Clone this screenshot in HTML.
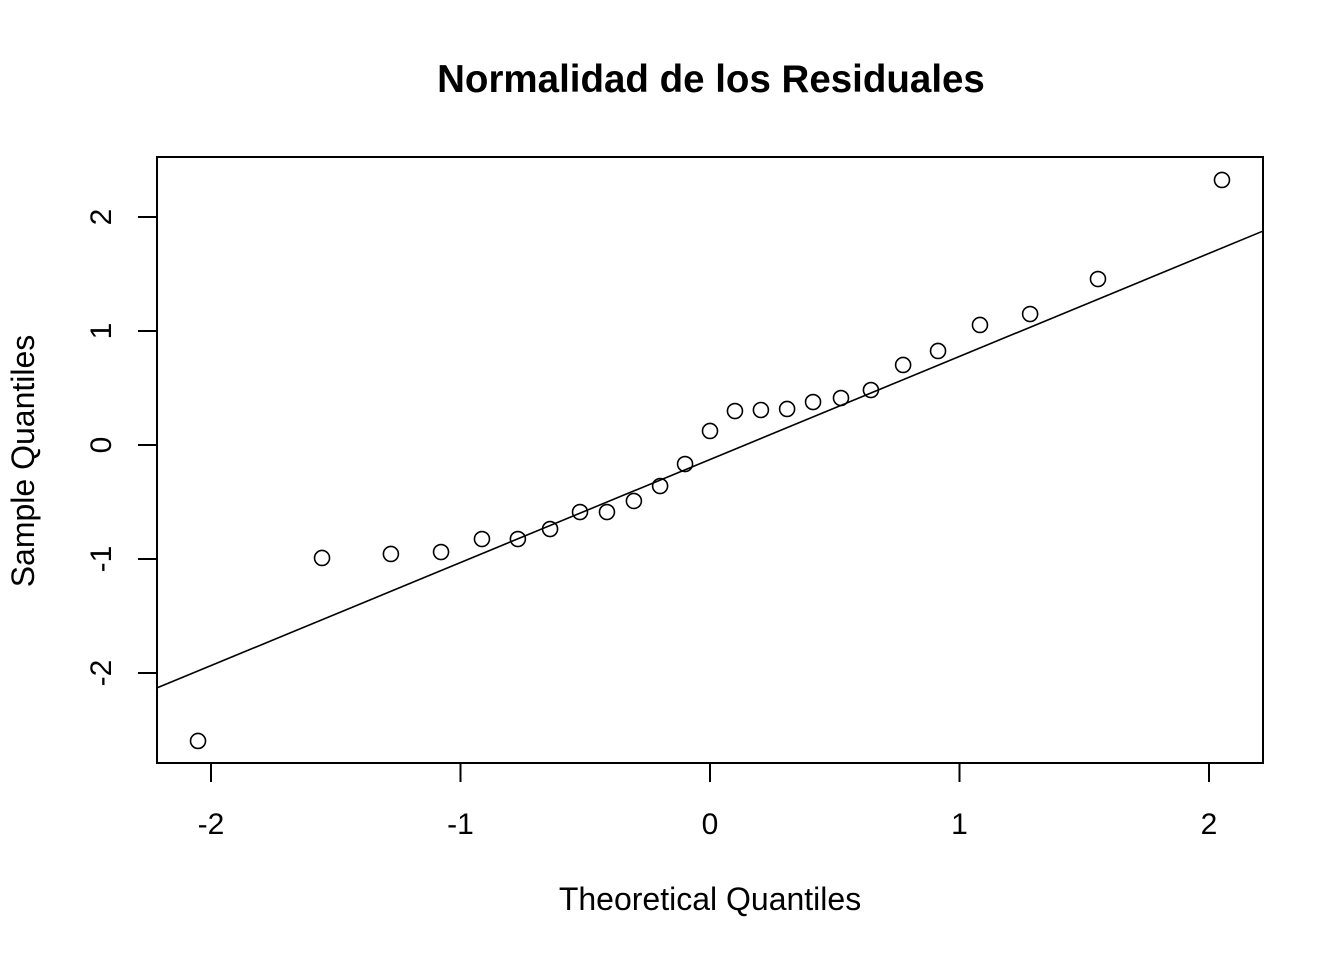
<!DOCTYPE html>
<html><head><meta charset="utf-8"><style>
html,body{margin:0;padding:0;background:#fff;}
svg{display:block;font-family:"Liberation Sans",Arial,sans-serif;}
</style></head><body>
<svg id="chart" width="1344" height="960" viewBox="0 0 1344 960">
<rect width="1344" height="960" fill="#fff"/>
<text x="711" y="92" text-anchor="middle" font-size="38.5" font-weight="bold">Normalidad de los Residuales</text>
<text x="710" y="910" text-anchor="middle" font-size="32">Theoretical Quantiles</text>
<text transform="translate(34,461) rotate(-90)" text-anchor="middle" font-size="32">Sample Quantiles</text>
<rect x="157" y="157" width="1106" height="606" fill="none" stroke="#000" stroke-width="2"/>
<g id="xaxis"></g>
<g id="yaxis"></g>
<g id="marks"></g>
</svg>
<script>
const theoretical = [-2.052,-1.555,-1.279,-1.078,-0.914,-0.770,-0.641,-0.521,-0.413,-0.305,-0.200,-0.100,0,0.100,0.204,0.309,0.413,0.525,0.645,0.774,0.914,1.082,1.283,1.555,2.052];
const sample = [-2.596,-0.991,-0.956,-0.939,-0.825,-0.825,-0.737,-0.588,-0.588,-0.491,-0.360,-0.167,0.123,0.298,0.307,0.316,0.377,0.412,0.482,0.702,0.825,1.053,1.149,1.456,2.325];
const xTicks = [-2,-1,0,1,2];
const yTicks = [-2,-1,0,1,2];
const lineSlope = 0.904;
const lineIntercept = -0.127;

const NS = "http://www.w3.org/2000/svg";
const X0 = 157, X1 = 1263, Y0 = 157, Y1 = 763;
const sx = v => 710 + 249.5 * v;
const sy = v => 445 - 114 * v;
const xInv = p => (p - 710) / 249.5;
function mk(tag, attrs, parent){const e=document.createElementNS(NS,tag);for(const k in attrs)e.setAttribute(k,attrs[k]);parent.appendChild(e);return e;}

const xa = document.getElementById('xaxis');
mk('line',{x1:sx(xTicks[0]),x2:sx(xTicks[xTicks.length-1]),y1:Y1,y2:Y1,stroke:'#000','stroke-width':2},xa);
xTicks.forEach(t=>{
  const l = mk('line',{x1:sx(t),x2:sx(t),y1:Y1,y2:Y1+19,stroke:'#000','stroke-width':2},xa);
  
  
  const tx = mk('text',{x:sx(t),y:834,'text-anchor':'middle','font-size':30},xa);
  tx.textContent = String(t);
  
  
});
const ya = document.getElementById('yaxis');
mk('line',{x1:X0,x2:X0,y1:sy(yTicks[0]),y2:sy(yTicks[yTicks.length-1]),stroke:'#000','stroke-width':2},ya);
yTicks.forEach(t=>{
  const l = mk('line',{x1:X0-19,x2:X0,y1:sy(t),y2:sy(t),stroke:'#000','stroke-width':2},ya);
  
  
  const tx = mk('text',{transform:`translate(111,${sy(t)}) rotate(-90)`,'text-anchor':'middle','font-size':30},ya);
  tx.textContent = String(t);
  
  
});
const g = document.getElementById('marks');
const xa0 = xInv(X0), xa1 = xInv(X1);
const ln = mk('line',{x1:X0,y1:sy(lineIntercept+lineSlope*xa0),x2:X1,y2:sy(lineIntercept+lineSlope*xa1),stroke:'#000','stroke-width':1.6},g);


theoretical.forEach((tv,i)=>{
  const c = mk('circle',{cx:sx(tv),cy:sy(sample[i]),r:7.5,fill:'none',stroke:'#000','stroke-width':1.6},g);
  
  
});
</script>
</body></html>
